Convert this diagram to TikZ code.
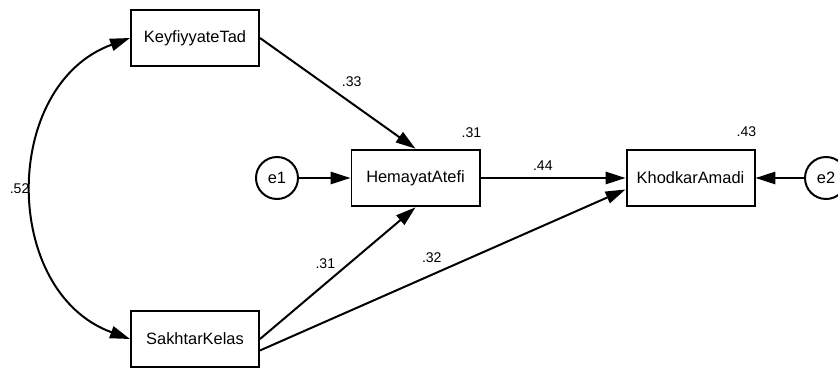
\documentclass[tikz,border=0pt]{standalone}
\usepackage{fontspec}
\setmainfont{Liberation Sans}
\usetikzlibrary{arrows.meta}

\begin{document}
\begin{tikzpicture}[x=0.03cm,y=-0.03cm,->,>={Triangle[length=17pt,width=10.5pt]},line width=1.7pt,
        var/.style={rectangle,minimum width=3.84cm,minimum height=1.7cm,inner sep=0pt,draw=black,font=\fontsize{14}{16}\selectfont},
        err/.style={circle,minimum size=1.26cm,inner sep=0pt,draw=black,font=\fontsize{14}{16}\selectfont},
        coef/.style={inner sep=1pt,font=\fontsize{12}{14}\selectfont}]
        \useasboundingbox (0,0) rectangle (838,368);
        \node[var]  (KT) at (195,38)    {KeyfiyyateTad};
        \node[var]  (SK) at (195,339)   {SakhtarKelas};
        \node[var]  (HA) at (415.5,178) {HemayatAtefi};
        \node[var]  (KA) at (690.5,178) {KhodkarAmadi};
        \node[err]  (e1) [left of=HA,node distance=4.155cm]  {e1};
        \node[err]  (e2) [right of=KA,node distance=4.065cm] {e2};
        \node[coef] (r1) at ([shift={(-9,-16)}]HA.north east) {.31};
        \node[coef] (r2) at ([shift={(-9,-17)}]KA.north east) {.43};
        \path
          (KT.east) edge node[coef,pos=.59,yshift=.66cm] {.33} (HA.north)
          (SK.east) edge node[coef,pos=.42,yshift=.6cm]  {.31} (HA.south)
          (SK.-10)  edge node[coef,pos=.47,yshift=.51cm] {.32} (KA.190)
          (HA.east) edge node[coef,pos=.43,yshift=.36cm] {.44} (KA.west)
          (e1)      edge (HA)
          (e2)      edge (KA)
          ;
        \draw[<->] (KT.west) .. controls +(-129,47) and +(-129,-47) .. (SK.west)
          node[coef,pos=.5,left,inner sep=2.5pt] {.52};
      \end{tikzpicture}
\end{document}
